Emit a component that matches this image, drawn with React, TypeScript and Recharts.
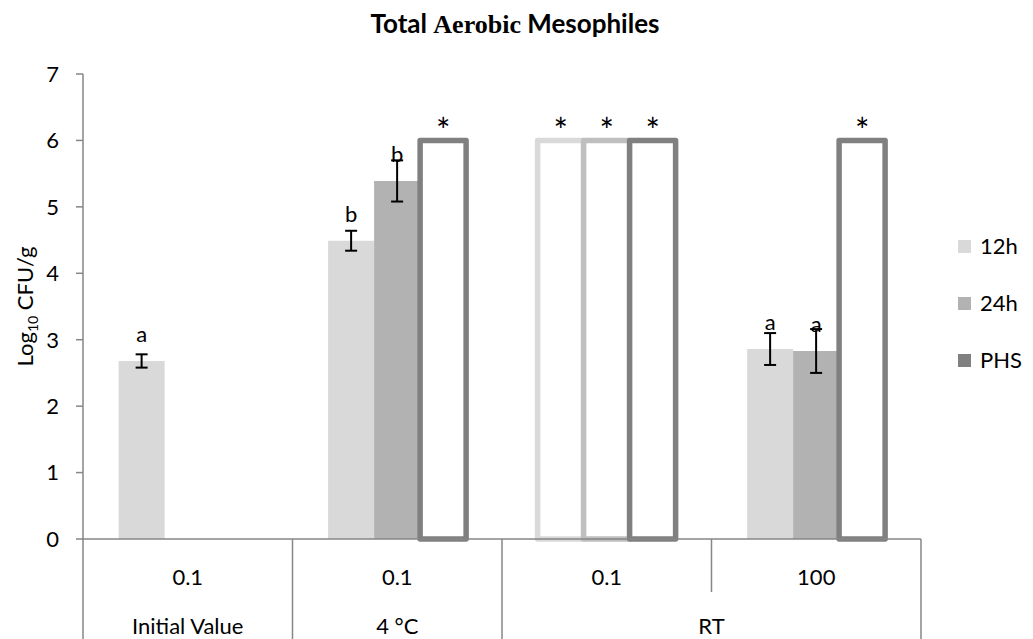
import React from 'react';
import { BarChart, Bar, XAxis, YAxis, ErrorBar, Cell, LabelList } from 'recharts';

// ---- data ----
const categories = ['0.1', '0.1', '0.1', '100'];
const groupLabels = ['Initial Value', '4 °C', 'RT'];
const groupStarts = [0, 1, 2];
const groupEnds = [1, 2, 4];
const seriesNames = ['12h', '24h', 'PHS'];
const values12h = [2.68, 4.49, 6, 2.86];
const values24h = [null, 5.39, 6, 2.83];
const valuesPHS = [null, 6, 6, 6];
const errors12h = [0.1, 0.15, null, 0.24];
const errors24h = [null, 0.31, null, 0.33];
const letters12h = ['a', 'b', '*', 'a'];
const letters24h = [null, 'b', '*', 'a'];
const lettersPHS = [null, '*', '*', '*'];
const yTicks = [0, 1, 2, 3, 4, 5, 6, 7];
const chartTitle = ['Total ', 'Aerobic', ' Mesophiles'];

// ---- styles ----
const FONT = 'Lato, "Open Sans", sans-serif';
const SERIF = '"Liberation Serif", "DejaVu Serif", serif';
const FILLS = ['#d9d9d9', '#b2b2b2', '#808080'];
const OUTLINES = ['#d9d9d9', '#bfbfbf', '#808080'];
const AXIS = '#868686';
const W = 1033;
const H = 639;

const seriesValues = [values12h, values24h, valuesPHS];
const seriesErrors = [errors12h, errors24h, null];
const seriesLetters = [letters12h, letters24h, lettersPHS];

const data = categories.map((c, i) => {
  const row: any = { key: 'c' + i, label: c, pos: i + 0.5 };
  seriesValues.forEach((vals, s) => {
    row['s' + s] = vals[i];
    const e = seriesErrors[s];
    row['e' + s] = e ? e[i] : null;
    row['l' + s] = seriesLetters[s][i];
  });
  return row;
});

// group-axis tick info
type TickInfo = { row1?: string; row2?: string; line?: 'full' | 'short' };
const tickInfo = new Map<number, TickInfo>();
const getInfo = (v: number) => {
  if (!tickInfo.has(v)) tickInfo.set(v, {});
  return tickInfo.get(v)!;
};
categories.forEach((c, i) => {
  getInfo(i + 0.5).row1 = c;
});
groupLabels.forEach((g, k) => {
  getInfo((groupStarts[k] + groupEnds[k]) / 2).row2 = g;
  getInfo(groupStarts[k]).line = 'full';
  getInfo(groupEnds[k]).line = 'full';
});
for (let j = 1; j < categories.length; j++) {
  const inf = getInfo(j);
  if (!inf.line) inf.line = 'short';
}
const groupTicks = Array.from(tickInfo.keys()).sort((a, b) => a - b);

const GroupTick = (props: any) => {
  const { x, y, payload } = props;
  const info = tickInfo.get(payload.value) || {};
  return (
    <g>
      {info.line && (
        <line x1={x} x2={x} y1={y} y2={y + (info.line === 'full' ? 100 : 53)} stroke={AXIS} strokeWidth={1.5} />
      )}
      {info.row1 && (
        <text x={x} y={y + 46} textAnchor="middle" fontFamily={FONT} fontSize={22} fill="#000">
          {info.row1}
        </text>
      )}
      {info.row2 && (
        <text x={x} y={y + 95} textAnchor="middle" fontFamily={FONT} fontSize={22} fill="#000">
          {info.row2}
        </text>
      )}
    </g>
  );
};

const LetterLabel = (props: any) => {
  const { x, y, width, value } = props;
  if (!value) return null;
  const isStar = value === '*';
  return (
    <text
      x={x + width / 2}
      y={isStar ? y + 3 : y - 19}
      textAnchor="middle"
      fontFamily={FONT}
      fontSize={isStar ? 34 : 22}
      fill="#000"
    >
      {value}
    </text>
  );
};

const YLabel = (props: any) => {
  const { viewBox } = props;
  const cy = viewBox.y + viewBox.height / 2;
  const cx = 33;
  return (
    <text
      x={cx}
      y={cy}
      transform={`rotate(-90, ${cx}, ${cy})`}
      textAnchor="middle"
      fontFamily={FONT}
      fontSize={22}
      fill="#000"
    >
      <tspan>Log</tspan>
      <tspan fontSize={14} dy={5}>10</tspan>
      <tspan dy={-5}> CFU/g</tspan>
    </text>
  );
};

export default function App() {
  return (
    <div style={{ position: 'absolute', left: 0, top: 0, width: W, height: H, background: '#fff' }}>
      <BarChart
        width={W}
        height={H}
        data={data}
        margin={{ top: 74, right: 112, bottom: 0, left: 0 }}
        barCategoryGap="17%"
        barGap={0}
      >
        <XAxis xAxisId="cat" dataKey="key" type="category" hide height={0} />
        <XAxis
          xAxisId="grp"
          dataKey="pos"
          type="number"
          domain={[0, 4]}
          allowDataOverflow
          ticks={groupTicks}
          interval={0}
          height={100}
          tickLine={false}
          tickSize={0}
          tickMargin={0}
          axisLine={{ stroke: AXIS, strokeWidth: 1.5 }}
          tick={<GroupTick />}
        />
        <YAxis
          domain={[0, 7]}
          ticks={yTicks}
          interval={0}
          width={83}
          tickSize={7}
          tickMargin={17}
          axisLine={{ stroke: AXIS, strokeWidth: 1.5 }}
          tickLine={{ stroke: AXIS, strokeWidth: 1.5 }}
          tick={{ fontFamily: FONT, fontSize: 22, fill: '#000' }}
          label={<YLabel />}
        />
        {seriesNames.map((name, s) => (
          <Bar
            key={name}
            xAxisId="cat"
            dataKey={'s' + s}
            name={name}
            fill={FILLS[s]}
            isAnimationActive={false}
          >
            {data.map((d, i) => {
              const outlined = d['l' + s] === '*';
              return (
                <Cell
                  key={i}
                  fill={outlined ? '#ffffff' : FILLS[s]}
                  stroke={outlined ? OUTLINES[s] : 'none'}
                  strokeWidth={outlined ? 5.5 : 0}
                  strokeLinejoin="round"
                />
              );
            })}
            {seriesErrors[s] && (
              <ErrorBar dataKey={'e' + s} width={6} strokeWidth={2} stroke="#000" direction="y" />
            )}
            <LabelList dataKey={'l' + s} content={<LetterLabel />} />
          </Bar>
        ))}
      </BarChart>
      <svg width={W} height={H} style={{ position: 'absolute', left: 0, top: 0, pointerEvents: 'none' }}>
        <text x={515} y={33} textAnchor="middle" fontSize={26} fontWeight="bold" fill="#000">
          <tspan fontFamily={FONT}>{chartTitle[0]}</tspan>
          <tspan fontFamily={SERIF}>{chartTitle[1]}</tspan>
          <tspan fontFamily={FONT}>{chartTitle[2]}</tspan>
        </text>
        {seriesNames.map((name, s) => (
          <g key={name}>
            <rect x={958} y={240 + s * 57} width={13} height={13} fill={FILLS[s]} />
            <text x={980} y={254 + s * 57} fontFamily={FONT} fontSize={22} fill="#000">
              {name}
            </text>
          </g>
        ))}
      </svg>
    </div>
  );
}
